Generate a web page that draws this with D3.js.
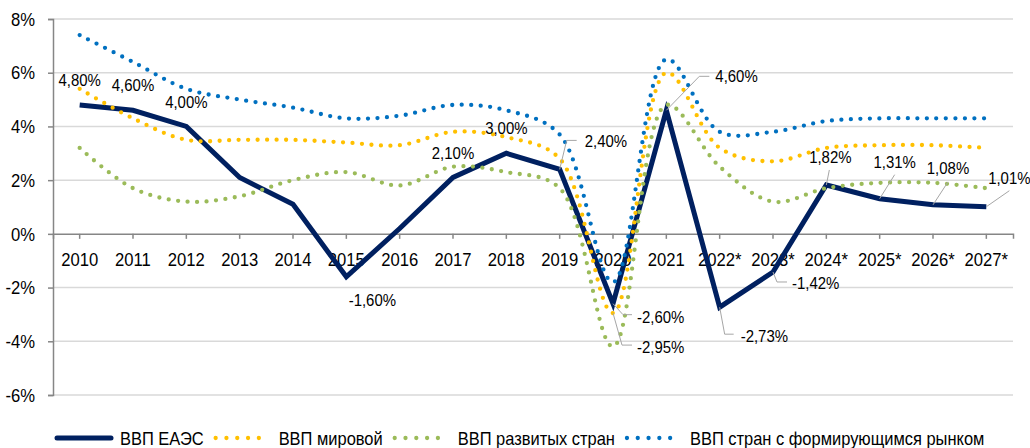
<!DOCTYPE html>
<html>
<head>
  <meta charset="utf-8">
  <style>
    body { margin: 0; background: white; }
    text { font-family: "Liberation Sans", Arial, sans-serif; fill: #000; }
  </style>
</head>
<body>
  <script src="https://d3js.org/d3.v7.min.js"></script>
  <script>
    var width = 1030, height = 448;

    var years = ["2010","2011","2012","2013","2014","2015","2016","2017","2018",
                 "2019","2020","2021","2022*","2023*","2024*","2025*","2026*","2027*"];
    var eaeu      = [4.8, 4.6, 4.0, 2.1, 1.1, -1.6, 0.2, 2.1, 3.0, 2.4, -2.6, 4.6, -2.73, -1.42, 1.82, 1.31, 1.08, 1.01];
    var world     = [5.4, 4.3, 3.5, 3.5, 3.5, 3.4, 3.3, 3.8, 3.6, 2.8, -2.95, 6.0, 3.2, 2.7, 3.2, 3.3, 3.3, 3.2];
    var developed = [3.2, 1.7, 1.2, 1.4, 2.0, 2.3, 1.8, 2.5, 2.3, 1.7, -4.2, 4.8, 2.5, 1.2, 1.7, 1.9, 1.9, 1.7];
    var emerging  = [7.4, 6.4, 5.4, 5.0, 4.7, 4.3, 4.4, 4.8, 4.6, 3.7, -1.8, 6.5, 3.8, 3.8, 4.2, 4.3, 4.3, 4.3];
    var yTicks = [-6, -4, -2, 0, 2, 4, 6, 8];

    var seriesNames = ["ВВП ЕАЭС", "ВВП мировой", "ВВП развитых стран", "ВВП стран с формирующимся рынком"];

    // which points get a value label, and where the label sits relative to the point
    var labelSpots = [
      {s: 0, i: 0,  dx: 0,  dy: -25},
      {s: 0, i: 1,  dx: 0,  dy: -25},
      {s: 0, i: 2,  dx: 0,  dy: -25},
      {s: 0, i: 5,  dx: 26, dy: 23},
      {s: 0, i: 7,  dx: 0,  dy: -25},
      {s: 0, i: 8,  dx: 0,  dy: -25},
      {s: 0, i: 9,  lead: [[7, -29], [17, -29]], tx: 25, ty: -29, anchor: "start"},
      {s: 0, i: 10, lead: [[10, 11], [19, 11]], tx: 24, ty: 13, anchor: "start"},
      {s: 1, i: 10, lead: [[9, 32], [19, 32]], tx: 24, ty: 34, anchor: "start"},
      {s: 0, i: 11, lead: [[33, -34], [43, -34]], tx: 49, ty: -34, anchor: "start"},
      {s: 0, i: 12, lead: [[5, 27], [14, 27]], tx: 21, ty: 29, anchor: "start"},
      {s: 0, i: 13, lead: [[4, 10], [14, 10]], tx: 19, ty: 11, anchor: "start"},
      {s: 0, i: 14, lead: [[3, -15]], tx: 4, ty: -28, anchor: "middle"},
      {s: 0, i: 15, lead: [[15, -24]], tx: 15, ty: -37, anchor: "middle"},
      {s: 0, i: 16, lead: [[15, -23]], tx: 15, ty: -37, anchor: "middle"},
      {s: 0, i: 17, lead: [[23, -16]], tx: 23, ty: -29, anchor: "middle"}
    ];

    var allSeries = [eaeu, world, developed, emerging];
    var colors = ["#002060", "#ffc000", "#9bbb59", "#0070c0"];
    var sx = 0.9;

    var svg = d3.select("body").append("svg")
        .attr("width", width).attr("height", height);

    var x = d3.scaleBand().domain(years).range([53, 1013]).padding(0);
    var cx = function(i) { return x(years[i]) + x.bandwidth() / 2; };
    var y = d3.scaleLinear().domain([-6, 8]).range([395, 19]);

    function fmt(v) {
      return (v < 0 ? "-" : "") + Math.abs(v).toFixed(2).replace(".", ",") + "%";
    }

    function label(g, px, py, s, anchor, size, k) {
      return g.append("text")
        .attr("transform", "translate(" + px + "," + py + ") scale(" + (k || sx) + ",1)")
        .attr("text-anchor", anchor)
        .attr("dy", "0.36em")
        .style("font-size", size + "px")
        .text(s);
    }

    // gridlines
    svg.append("g").selectAll("line")
        .data(yTicks.filter(d => d !== 0))
      .enter().append("line")
        .attr("x1", 53).attr("x2", 1013)
        .attr("y1", d => y(d)).attr("y2", d => y(d))
        .attr("stroke", "#d9d9d9").attr("stroke-width", 1.5);

    // y axis
    var yAxis = svg.append("g")
        .attr("transform", "translate(53,0)")
        .call(d3.axisLeft(y).tickValues(yTicks).tickSize(5).tickFormat(""));
    yAxis.selectAll("path, line").attr("stroke", "#868686").attr("stroke-width", 1.5);

    var yLab = svg.append("g");
    yTicks.forEach(function(t) {
      label(yLab, 35, y(t), (t < 0 ? "-" : "") + Math.abs(t) + "%", "end", 18.5);
    });

    // x axis at zero
    var xAxis = svg.append("g")
        .attr("transform", "translate(0," + y(0) + ")")
        .call(d3.axisBottom(x).tickSize(5).tickFormat("").tickSizeOuter(5));
    xAxis.selectAll("path, line").attr("stroke", "#868686").attr("stroke-width", 1.5);

    var xLab = svg.append("g");
    years.forEach(function(yr, i) {
      label(xLab, cx(i), y(0) + 25, yr, "middle", 18.5);
    });

    // lines
    var line = d3.line()
        .x((d, i) => cx(i))
        .y(d => y(d))
        .curve(d3.curveCatmullRom.alpha(0.5));

    var straight = d3.line()
        .x((d, i) => cx(i))
        .y(d => y(d));

    svg.append("path")
        .datum(eaeu)
        .attr("d", straight)
        .attr("fill", "none")
        .attr("stroke", colors[0])
        .attr("stroke-width", 5)
        .attr("stroke-linejoin", "miter");

    [1, 2, 3].forEach(function(k) {
      svg.append("path")
          .datum(allSeries[k])
          .attr("d", line)
          .attr("fill", "none")
          .attr("stroke", colors[k])
          .attr("stroke-width", 4.3)
          .attr("stroke-linecap", "round")
          .attr("stroke-dasharray", "0 9.5");
    });

    // value labels
    var labG = svg.append("g");
    labelSpots.forEach(function(l) {
      var v = allSeries[l.s][l.i];
      var px = cx(l.i), py = y(v);
      if (l.lead) {
        var pts = [[px, py]].concat(l.lead.map(p => [px + p[0], py + p[1]]));
        labG.append("path")
          .attr("d", d3.line()(pts))
          .attr("fill", "none")
          .attr("stroke", "#a6a6a6")
          .attr("stroke-width", 1);
        label(labG, px + l.tx, py + l.ty, fmt(v), l.anchor, 17, 0.88);
      } else {
        label(labG, px + l.dx, py + l.dy, fmt(v), "middle", 17, 0.88);
      }
    });

    // legend
    var leg = svg.append("g").attr("transform", "translate(0,438)");
    var lx = 55, ls = 0.89;
    seriesNames.forEach(function(name, k) {
      var sample = leg.append("line")
        .attr("x1", lx + 2).attr("x2", lx + 56)
        .attr("y1", 0).attr("y2", 0)
        .attr("stroke", colors[k]);
      if (k === 0) {
        sample.attr("stroke-width", 5).attr("stroke-linecap", "round");
      } else {
        sample.attr("stroke-width", 4.3).attr("stroke-linecap", "round")
          .attr("stroke-dasharray", "0 10.8");
      }
      var t = label(leg, lx + 65, 0, name, "start", 18.5, ls);
      lx = lx + 65 + t.node().getComputedTextLength() * ls + 10;
    });
  </script>
</body>
</html>
